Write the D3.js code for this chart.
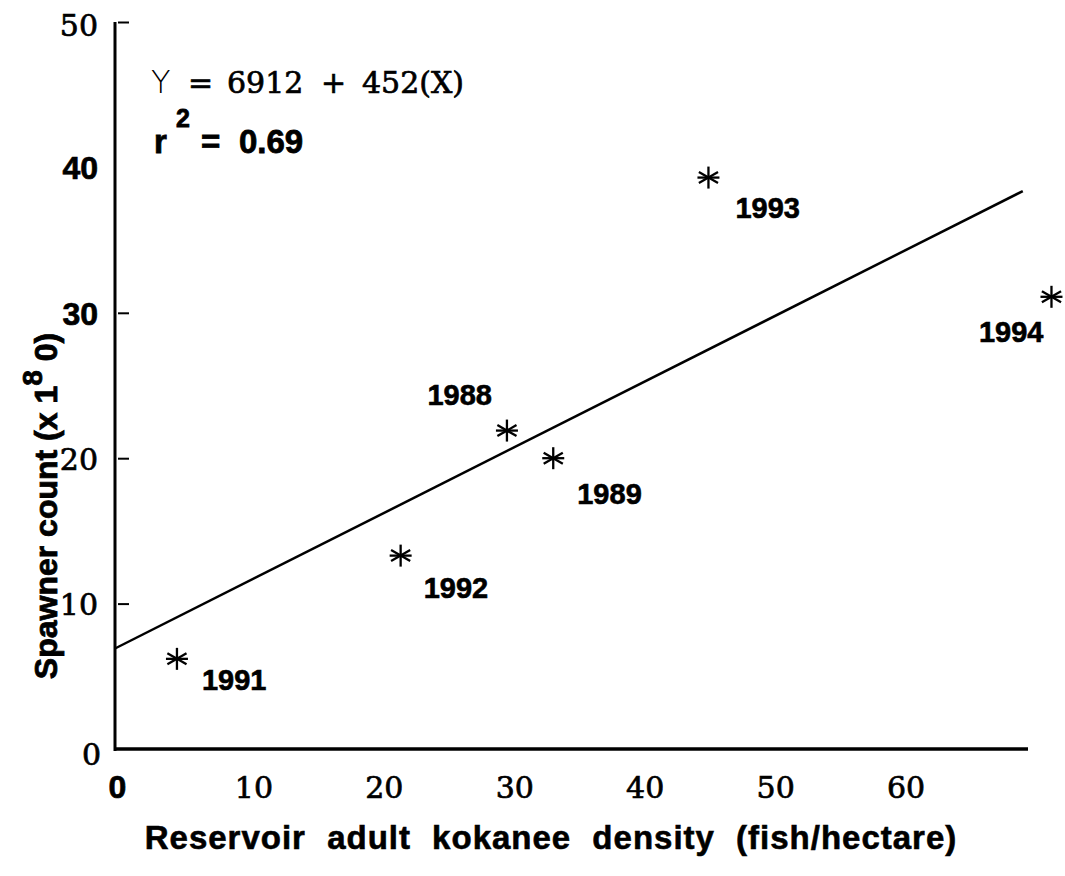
<!DOCTYPE html>
<html>
<head>
<meta charset="utf-8">
<script src="https://cdn.jsdelivr.net/npm/d3@7"></script>
<style>
body{margin:0;background:#fff;}
svg{display:block;}
</style>
</head>
<body>
<svg id="chart"></svg>
<script>
width=1065;
height=876;

// data, density in fish/hectare, spawners in thousands
var years=["1991","1992","1988","1989","1993","1994"];
var density=[4.75,21.9,30.05,33.6,45.5,71.8];
var spawners=[6.2,13.3,21.9,20.0,39.3,31.1];
var xTicks=[0,10,20,30,40,50,60];
var yTicks=[0,10,20,30,40,50];
var intercept=6.912, slope=0.452;
var fitRange=[0,69.6];
// label placement relative to the star (dx, dy, anchor)
var labelPos=[[25,31,"start"],[23,42,"start"],[-15,-26,"end"],[24,46,"start"],[27,40,"start"],[-8,45,"end"]];

var svg=d3.select("#chart")
    .attr("width",width)
    .attr("height",height);

var x=d3.scaleLinear().domain([0,70]).range([115,1028]);
var y=d3.scaleLinear().domain([0,50]).range([749,22]);

var serif="'DejaVu Serif', serif";
var sans="'Liberation Sans', Arial, sans-serif";

function heavy(sel,w){
    sel.attr("stroke","#000").attr("stroke-width",w);
}

// y axis
var yAxis=svg.append("g")
    .attr("transform","translate("+x(0)+",0)")
    .call(d3.axisLeft(y).tickValues(yTicks).tickSize(-14).tickPadding(17));
yAxis.select(".domain").remove();
yAxis.selectAll(".tick line")
    .attr("x1",3)
    .attr("stroke-width",2)
    .attr("display",function(d){return (d==0||d==40)?"none":null});
yAxis.selectAll(".tick text")
    .attr("fill","#000")
    .attr("dy","0.36em")
    .style("font-family",function(d){return (d==30||d==40)?sans:serif})
    .style("font-weight",function(d){return (d==30||d==40)?"bold":"normal"})
    .style("font-size",function(d){return (d==30||d==40)?"32px":"30px"})
    .call(heavy,0.7);
yAxis.selectAll(".tick").filter(function(d){return d==0}).select("text").attr("dy","0.5em").attr("x",-14);
yAxis.selectAll(".tick").filter(function(d){return d==50}).select("text").attr("dy","0.45em");

svg.append("line")
    .attr("x1",x(0)).attr("x2",x(0))
    .attr("y1",y(50)).attr("y2",y(0)+2)
    .attr("stroke","#000").attr("stroke-width",3);

// x axis
var xAxis=svg.append("g")
    .attr("transform","translate(0,"+y(0)+")")
    .call(d3.axisBottom(x).tickValues(xTicks).tickSize(0).tickPadding(0));
xAxis.select(".domain").remove();
xAxis.selectAll(".tick text")
    .attr("fill","#000")
    .attr("y",49)
    .attr("dy",0)
    .attr("x",function(d){return d==0?2:8})
    .style("font-family",function(d){return d==0?sans:serif})
    .style("font-weight",function(d){return d==0?"bold":"normal"})
    .style("font-size",function(d){return d==0?"32px":"30px"})
    .call(heavy,0.7);

svg.append("line")
    .attr("x1",x(0)-1).attr("x2",x(70))
    .attr("y1",y(0)).attr("y2",y(0))
    .attr("stroke","#000").attr("stroke-width",3.5);

// regression line
svg.append("line")
    .attr("x1",x(fitRange[0])).attr("y1",y(intercept+slope*fitRange[0]))
    .attr("x2",x(fitRange[1])).attr("y2",y(intercept+slope*fitRange[1]))
    .attr("stroke","#000").attr("stroke-width",2.5);

// star markers
var pts=years.map(function(d,i){return {year:d,x:density[i],y:spawners[i],lp:labelPos[i]}});
var r=11;
var arms=[[0,-r,0,r],[-r*0.87,-r*0.5,r*0.87,r*0.5],[-r*0.87,r*0.5,r*0.87,-r*0.5],[-r,0,r,0]];
var g=svg.append("g").selectAll("g")
    .data(pts)
    .enter().append("g")
    .attr("transform",function(d){return "translate("+x(d.x)+","+y(d.y)+")"});
arms.forEach(function(a){
    g.append("line")
        .attr("x1",a[0]).attr("y1",a[1]).attr("x2",a[2]).attr("y2",a[3])
        .attr("stroke","#000").attr("stroke-width",2.3);
});
g.append("text")
    .text(function(d){return d.year})
    .attr("x",function(d){return d.lp[0]})
    .attr("y",function(d){return d.lp[1]})
    .attr("text-anchor",function(d){return d.lp[2]})
    .style("font-family",sans)
    .style("font-weight","bold")
    .style("font-size","29px")
    .call(heavy,0.6);

// equation
var eq=svg.append("text")
    .attr("y",93)
    .style("font-size","30px");
eq.append("tspan").attr("x",151).text("Y").style("font-family","'DejaVu Sans', sans-serif").style("font-weight","200").style("font-size","32px");
[["=",188],["6912",227],["+",321],["452(X)",362]].forEach(function(p){
    eq.append("tspan").attr("x",p[1]).text(p[0]).style("font-family",serif).call(heavy,0.7);
});

var r2=svg.append("text")
    .attr("y",153)
    .style("font-family",sans)
    .style("font-weight","bold")
    .style("font-size","33px")
    .call(heavy,0.8);
r2.append("tspan").attr("x",154).text("r");
r2.append("tspan").attr("x",176).text("2").attr("dy",-26).style("font-size","25px");
r2.append("tspan").attr("x",201).text("=").attr("dy",26);
r2.append("tspan").attr("x",239).text("0.69");

// axis titles
svg.append("text")
    .attr("x",551).attr("y",849)
    .attr("text-anchor","middle")
    .style("font-family",sans)
    .style("font-weight","bold")
    .style("font-size","33px")
    .style("letter-spacing","1px")
    .style("word-spacing","11px")
    .call(heavy,0.6)
    .text("Reservoir adult kokanee density (fish/hectare)");

var yt=svg.append("text")
    .attr("transform","translate(57,506) rotate(-90)")
    .attr("text-anchor","middle")
    .style("font-family",sans)
    .style("font-weight","bold")
    .style("font-size","32px")
    .style("white-space","pre")
    .call(heavy,0.8);
yt.append("tspan").text("Spawner count (x 1");
yt.append("tspan").text("8").attr("dy",-15).style("font-size","28px");
yt.append("tspan").text(" 0)").attr("dy",15);
</script>
</body>
</html>
